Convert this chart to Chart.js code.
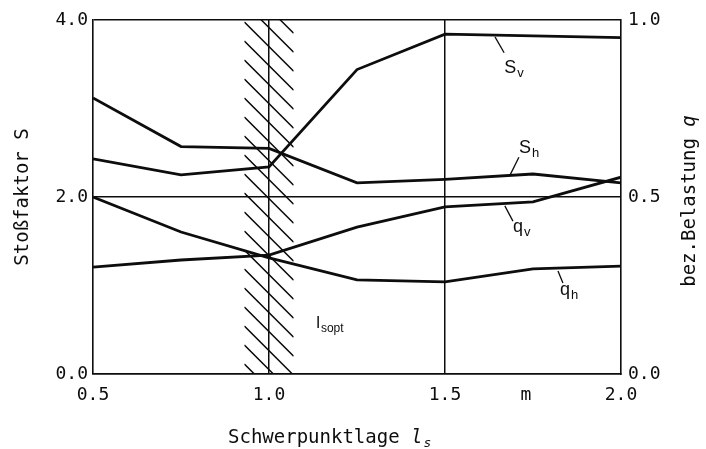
<!DOCTYPE html>
<html>
<head>
<meta charset="utf-8">
<script src="https://cdn.jsdelivr.net/npm/chart.js@4.4.1/dist/chart.umd.min.js"></script>
<style>
  html, body { margin: 0; padding: 0; background: #fff; }
  #chart { display: block; }
</style>
</head>
<body>
<canvas id="chart" width="706" height="449"></canvas>
<script>
// Schwerpunktlage (m)
const positions = [0.5, 0.75, 1.0, 1.25, 1.5, 1.75, 2.0];
// Stoßfaktor S
const sV = [2.43, 2.25, 2.34, 3.44, 3.84, 3.82, 3.80];
const sH = [3.12, 2.57, 2.55, 2.16, 2.20, 2.26, 2.16];
// bez. Belastung q
const qV = [0.302, 0.322, 0.336, 0.415, 0.472, 0.486, 0.556];
const qH = [0.500, 0.401, 0.328, 0.266, 0.260, 0.297, 0.305];

const xTickValues = [0.5, 1.0, 1.5, 1.73, 2.0];
const xTickLabels = ["0.5", "1.0", "1.5", "m", "2.0"];
const optimumBand = [0.93, 1.07];

const INK = "#0d0d0d";
const MONO = '"DejaVu Sans Mono", monospace';
const SANS = '"Liberation Sans", Arial, sans-serif';

function pts(ys) {
    return positions.map((x, i) => ({ x: x, y: ys[i] }));
}

function line(label, ys, axis) {
    return {
        label: label,
        data: pts(ys),
        yAxisID: axis,
        borderColor: INK,
        borderWidth: 2.8,
        pointRadius: 0,
        tension: 0,
        fill: false
    };
}

// text with a subscript, returns end x
function subText(ctx, x, y, main, sub, size, italic) {
    const it = italic ? "italic " : "";
    ctx.font = it + size + "px " + ctx._fam;
    ctx.fillText(main, x, y);
    const w = ctx.measureText(main).width;
    ctx.font = it + Math.round(size * 0.7) + "px " + ctx._fam;
    ctx.fillText(sub, x + w + 1, y + size * 0.22);
    return x + w + 1 + ctx.measureText(sub).width;
}

const overlay = {
    id: "overlay",
    beforeDatasetsDraw(chart) {
        const { ctx, chartArea: a, scales: { x } } = chart;
        const x1 = x.getPixelForValue(optimumBand[0]);
        const x2 = x.getPixelForValue(optimumBand[1]);
        const w = x2 - x1;
        ctx.save();
        ctx.beginPath();
        ctx.rect(x1, a.top, w, a.bottom - a.top);
        ctx.clip();
        ctx.strokeStyle = INK;
        ctx.lineWidth = 1.5;
        ctx.beginPath();
        for (let y = a.top + 2 - 19 * Math.ceil(w / 19); y < a.bottom; y += 19) {
            ctx.moveTo(x1, y);
            ctx.lineTo(x2, y + w);
        }
        ctx.stroke();
        ctx.restore();
    },
    afterDraw(chart) {
        const { ctx, chartArea: a, scales } = chart;
        const px = v => scales.x.getPixelForValue(v);
        const pyS = v => scales.y.getPixelForValue(v);
        const pyQ = v => scales.q.getPixelForValue(v);
        ctx.save();
        ctx.fillStyle = INK;
        ctx.strokeStyle = INK;
        ctx.textBaseline = "alphabetic";
        ctx.textAlign = "left";

        // curve labels with leader lines
        const marks = [
            { m: "S", s: "v", a: [1.642, pyS(3.81)], b: [1.668, pyS(3.63)], t: [1.668, pyS(3.40)] },
            { m: "S", s: "h", a: [1.685, pyS(2.25)], b: [1.710, pyS(2.45)], t: [1.710, pyS(2.50)] },
            { m: "q", s: "v", a: [1.670, pyQ(0.475)], b: [1.693, pyQ(0.432)], t: [1.693, pyQ(0.400)] },
            { m: "q", s: "h", a: [1.821, pyQ(0.291)], b: [1.835, pyQ(0.257)], t: [1.827, pyQ(0.222)] }
        ];
        ctx.lineWidth = 1.3;
        ctx._fam = SANS;
        marks.forEach(k => {
            ctx.beginPath();
            ctx.moveTo(px(k.a[0]), k.a[1]);
            ctx.lineTo(px(k.b[0]), k.b[1]);
            ctx.stroke();
            subText(ctx, px(k.t[0]), k.t[1], k.m, k.s, 18, false);
        });

        // l_s,opt
        subText(ctx, px(1.134), pyS(0.52), "l", "sopt", 17, false);

        // x title
        ctx._fam = MONO;
        ctx.font = "19px " + MONO;
        const tx = a.left + 135;
        const ty = 443;
        ctx.fillText("Schwerpunktlage ", tx, ty);
        const tw = ctx.measureText("Schwerpunktlage ").width;
        subText(ctx, tx + tw, ty, "l", "s", 19, true);

        // right title, reads bottom to top
        ctx.translate(690, (a.top + a.bottom) / 2 + 4);
        ctx.rotate(-Math.PI / 2);
        ctx.textBaseline = "middle";
        ctx.font = "19px " + MONO;
        const t1 = "bez.Belastung ";
        const w1 = ctx.measureText(t1).width;
        ctx.font = "italic 19px " + MONO;
        const w2 = ctx.measureText("q").width;
        const sx = -(w1 + w2) / 2;
        ctx.font = "19px " + MONO;
        ctx.fillText(t1, sx, 0);
        ctx.font = "italic 19px " + MONO;
        ctx.fillText("q", sx + w1, 0);
        ctx.restore();
    }
};

const tickFont = { family: MONO, size: 18 };

new Chart(document.getElementById("chart").getContext("2d"), {
    type: "line",
    data: {
        datasets: [
            line("S_v", sV, "y"),
            line("S_h", sH, "y"),
            line("q_v", qV, "q"),
            line("q_h", qH, "q")
        ]
    },
    options: {
        responsive: false,
        animation: false,
        devicePixelRatio: 1,
        layout: { padding: { top: 20, left: 0, right: 0, bottom: 0 } },
        plugins: {
            legend: { display: false },
            tooltip: { enabled: false }
        },
        scales: {
            x: {
                type: "linear",
                min: 0.5,
                max: 2.0,
                afterBuildTicks: s => { s.ticks = xTickValues.map(v => ({ value: v })); },
                afterFit: s => { s.height = 75; },
                ticks: {
                    font: tickFont,
                    color: INK,
                    padding: 11,
                    maxRotation: 0,
                    autoSkip: false,
                    callback: (v, i) => xTickLabels[i]
                },
                grid: {
                    drawTicks: false,
                    lineWidth: 1.5,
                    color: c => (c.tick && (c.tick.value === 1.0 || c.tick.value === 1.5)) ? INK : "rgba(0,0,0,0)"
                },
                border: { display: true, color: INK, width: 1.6 }
            },
            y: {
                position: "left",
                min: 0,
                max: 4,
                afterFit: s => { s.width = 93; },
                ticks: {
                    stepSize: 2,
                    font: tickFont,
                    color: INK,
                    padding: 5,
                    callback: v => v.toFixed(1)
                },
                grid: { drawTicks: false, lineWidth: 1.5, color: INK },
                border: { display: true, color: INK, width: 1.6 },
                title: {
                    display: true,
                    text: "Stoßfaktor S",
                    font: { family: MONO, size: 19 },
                    color: INK,
                    padding: { top: 12, bottom: 0 }
                }
            },
            q: {
                position: "right",
                min: 0,
                max: 1,
                afterFit: s => { s.width = 85; },
                ticks: {
                    stepSize: 0.5,
                    font: tickFont,
                    color: INK,
                    padding: 7,
                    callback: v => v.toFixed(1)
                },
                grid: { drawTicks: false, drawOnChartArea: false },
                border: { display: true, color: INK, width: 1.6 }
            }
        }
    },
    plugins: [overlay]
});
</script>
</body>
</html>
